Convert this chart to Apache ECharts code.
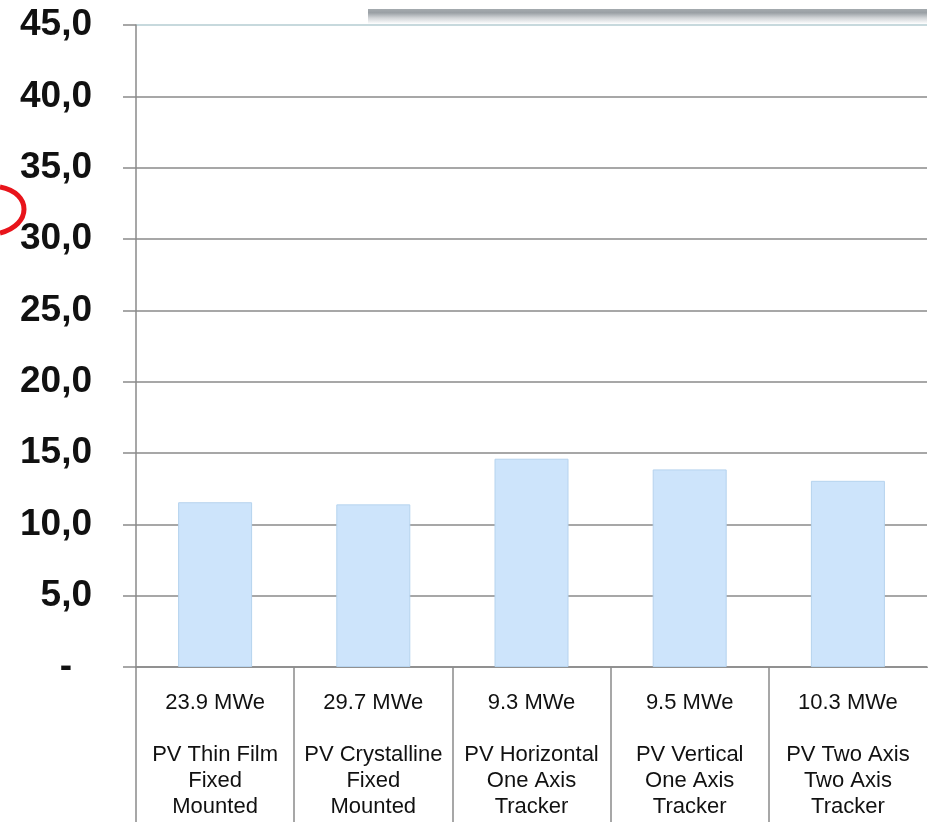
<!DOCTYPE html>
<html>
<head>
<meta charset="utf-8">
<script src="https://cdn.jsdelivr.net/npm/echarts@6/dist/echarts.min.js"></script>
<style>
  html, body { margin: 0; padding: 0; background: #ffffff; }
  #chart { width: 936px; height: 822px; }
</style>
</head>
<body>
<div id="chart"></div>
<script>
// Plant types and their rated capacity
const technologies = [
  'PV Thin Film\nFixed\nMounted',
  'PV Crystalline\nFixed\nMounted',
  'PV Horizontal\nOne Axis\nTracker',
  'PV Vertical\nOne Axis\nTracker',
  'PV Two Axis\nTwo Axis\nTracker'
];
const capacities = ['23.9 MWe', '29.7 MWe', '9.3 MWe', '9.5 MWe', '10.3 MWe'];

// Bar values per technology
const values = [11.55, 11.4, 14.6, 13.85, 13.05];

// Value axis range
const yMin = 0;
const yMax = 45;
const yStep = 5;

const categoryLabels = technologies.map((t, i) => capacities[i] + '\n\n' + t);

const chart = echarts.init(document.getElementById('chart'), null, { renderer: 'canvas' });

const gridColors = ['#8a8a8a', '#8a8a8a', '#8a8a8a', '#8a8a8a', '#8a8a8a',
                    '#8a8a8a', '#8a8a8a', '#8a8a8a', '#8a8a8a', '#b4ccd2'];

chart.setOption({
  backgroundColor: '#ffffff',
  animation: false,
  grid: { left: 136, right: 9, top: 25, bottom: 155, containLabel: false },
  xAxis: {
    type: 'category',
    data: categoryLabels,
    boundaryGap: true,
    axisLine: { show: true, lineStyle: { color: '#8a8a8a', width: 1.5 } },
    axisTick: { show: true, length: 160, alignWithLabel: false, lineStyle: { color: '#8a8a8a', width: 1.5 } },
    axisLabel: {
      interval: 0,
      margin: 23,
      color: '#111111',
      fontFamily: 'Liberation Sans, Arial, sans-serif',
      fontSize: 22,
      lineHeight: 26,
      align: 'center'
    }
  },
  yAxis: {
    type: 'value',
    min: yMin,
    max: yMax,
    interval: yStep,
    axisLine: { show: true, lineStyle: { color: '#8a8a8a', width: 1.5 } },
    axisTick: { show: true, length: 13, lineStyle: { color: '#8a8a8a', width: 1.5 } },
    splitLine: { show: true, lineStyle: { color: gridColors, width: 1.5 } },
    axisLabel: {
      margin: 44,
      color: '#111111',
      fontFamily: 'Liberation Sans, Arial, sans-serif',
      fontWeight: 'bold',
      fontSize: 37,
      formatter: function (v) {
        if (v === 0) return '{dash|-}';
        return v.toFixed(1).replace('.', ',');
      },
      rich: {
        dash: {
          fontFamily: 'Liberation Sans, Arial, sans-serif',
          fontWeight: 'bold',
          fontSize: 37,
          color: '#111111',
          padding: [0, 20, 0, 0]
        }
      }
    }
  },
  series: [{
    type: 'bar',
    data: values,
    barWidth: 74,
    itemStyle: { color: '#cde4fb', borderColor: '#b6d3ee', borderWidth: 1 }
  }],
  graphic: [
    {
      // soft grey shadow strip above the plot
      type: 'rect',
      shape: { x: 368, y: 9, width: 559, height: 15 },
      style: {
        fill: new echarts.graphic.LinearGradient(0, 0, 0, 1, [
          { offset: 0, color: '#a4aaae' },
          { offset: 0.25, color: '#9aa0a5' },
          { offset: 0.6, color: '#d2d5d8' },
          { offset: 1, color: '#ffffff' }
        ])
      },
      z: 0
    },
    {
      // the table under the axis is open on its right side
      type: 'rect',
      shape: { x: 924, y: 668, width: 12, height: 154 },
      style: { fill: '#ffffff' },
      z: 100
    },
    {
      // red highlight ring entering from the left edge
      type: 'bezierCurve',
      shape: { x1: 0, y1: 187, cpx1: 32, cpy1: 193, cpx2: 32, cpy2: 225, x2: 0, y2: 233 },
      style: { stroke: '#e8141b', lineWidth: 5, fill: null },
      z: 100
    }
  ]
});
</script>
</body>
</html>
